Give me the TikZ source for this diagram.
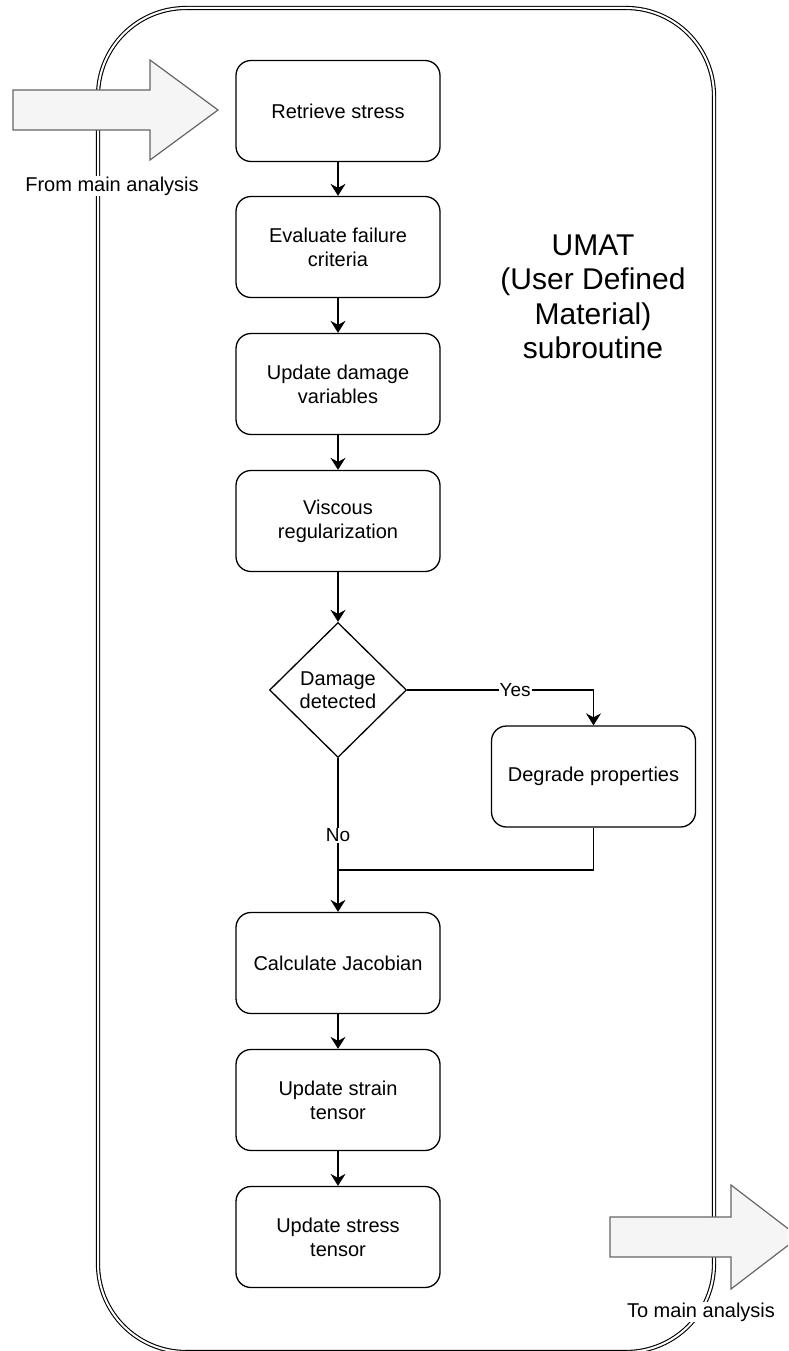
\documentclass[tikz,border=0pt]{standalone}
\usepackage{fontspec}
\setmainfont{Liberation Sans}
\usetikzlibrary{shapes.geometric,arrows.meta}

\begin{document}
\begin{tikzpicture}[
        x=1pt, y=-1pt,
        block/.style={draw, rounded corners=15pt, line width=1.3pt, minimum width=204pt, minimum height=101pt, align=center, font=\fontsize{20}{24}\selectfont},
        decision/.style={draw, diamond, aspect=1, line width=1.3pt, minimum width=137pt, minimum height=135pt, inner sep=0pt, align=center, font=\fontsize{20}{23}\selectfont},
        forward/.style={-{Stealth[length=12pt, width=15pt, inset=4pt]}, line width=1.3pt},
        link/.style={line width=1.3pt},
        lbl/.style={fill=white, inner sep=1pt, font=\fontsize{19}{22}\selectfont},
        bigarrow/.style={draw=black!60, fill=black!4, line width=1.2pt},
        container/.style={draw, double, double distance=2pt, line width=1.1pt, rounded corners=88pt}
    ]
        \clip (0,0) rectangle (788,1351);
        \draw[container] (98,8) rectangle (714,1352);

        % in and out of the subroutine
        \draw[bigarrow] (13,90) -- (150,90) -- (150,60) -- (218,110) -- (150,160) -- (150,130) -- (13,130) -- cycle;
        \node[lbl, font=\fontsize{20}{24}\selectfont] (fromlbl) at (112,186) {From main analysis};
        \draw[bigarrow] (610,1217) -- (731,1217) -- (731,1185) -- (799,1237) -- (731,1289) -- (731,1257) -- (610,1257) -- cycle;
        \node[lbl, font=\fontsize{20}{24}\selectfont] (tolbl) at (701,1312) {To main analysis};

        \node[align=center, font=\fontsize{30}{34.5}\selectfont] (umat) at (593,297) {UMAT\\(User Defined\\Material)\\subroutine};

        \node[block] (retrieve) at (338,111) {Retrieve stress};
        \node[block] (evaluate) at (338,247) {Evaluate failure\\criteria};
        \node[block] (update) at (338,384) {Update damage\\variables};
        \node[block] (viscous) at (338,521) {Viscous\\regularization};
        \node[decision] (damage) at (338,690) {Damage\\detected};
        \node[block] (degrade) at (593.5,776.5) {Degrade properties};
        \node[block] (jacobian) at (338,963) {Calculate Jacobian};
        \node[block] (strain) at (338,1100) {Update strain\\tensor};
        \node[block] (stress) at (338,1237) {Update stress\\tensor};

        \draw[forward] (retrieve) -- (evaluate);
        \draw[forward] (evaluate) -- (update);
        \draw[forward] (update) -- (viscous);
        \draw[forward] (viscous) -- (damage);
        \draw[forward] (damage.east) -| node[lbl, pos=0.29] {Yes} (degrade.north);
        \coordinate (join) at (338,870);
        \draw[link] (damage.south) -- node[lbl, pos=0.69] {No} (join);
        \draw[link] (degrade.south) |- (join);
        \draw[forward] (join) -- (jacobian);
        \draw[forward] (jacobian) -- (strain);
        \draw[forward] (strain) -- (stress);
    \end{tikzpicture}
\end{document}
